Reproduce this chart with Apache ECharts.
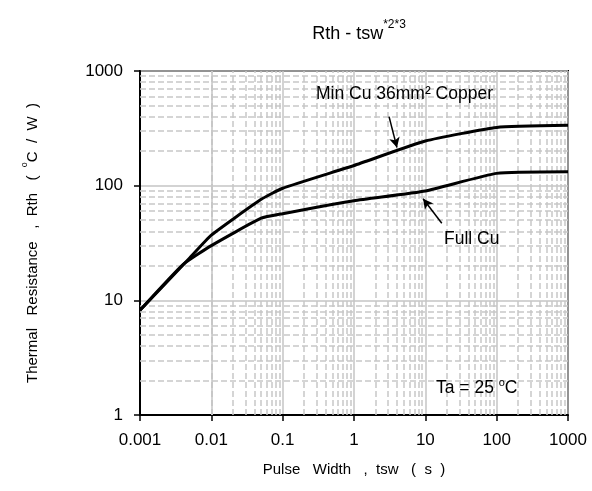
<!DOCTYPE html>
<html style="height: 100%">
<head>
  <meta charset="utf-8">
</head>
<body style="height: 100%; margin: 0">
  <div id="container" style="width: 592px; height: 491px"></div>
  <script src="https://cdn.jsdelivr.net/npm/echarts@6/dist/echarts.min.js"></script>
  <script type="text/javascript">
    // curve data
    var minCuX = [0.001, 0.005, 0.01, 0.05, 0.1, 1, 10, 100, 1000];
    var minCuY = [8.2, 23.5, 37, 76, 95, 150, 245, 322, 336];
    var fullCuX = [0.001, 0.004, 0.01, 0.05, 0.1, 1, 10, 100, 1000];
    var fullCuY = [8.2, 20.5, 30, 52, 57, 74, 90, 128, 132];

    var xDecades = [0.001, 0.01, 0.1, 1, 10, 100];
    var yDecades = [1, 10, 100];
    var minorSteps = [2, 3, 4, 5, 6, 7, 8, 9];

    // arrows: [tail, head] in data coords
    var arrowMin = [[3.1, 400], [4.0, 215]];
    var arrowFull = [[17, 47], [9.3, 77]];

    var font = "'Liberation Sans', Arial, sans-serif";

    function pairs(xs, ys) {
      return xs.map(function (x, i) { return [x, ys[i]]; });
    }

    var minorLines = [];
    xDecades.forEach(function (d) {
      minorSteps.forEach(function (s) { minorLines.push({ xAxis: d * s }); });
    });
    yDecades.forEach(function (d) {
      minorSteps.forEach(function (s) { minorLines.push({ yAxis: d * s }); });
    });

    var arrowStyle = { color: '#000', width: 1.5, type: 'solid' };
    var sup = function (size) {
      return {
        a: { fontFamily: font, fontSize: size, fill: '#000', color: '#000', lineHeight: 20, verticalAlign: 'bottom' },
        s: { fontFamily: font, fontSize: Math.round(size * 0.62), fill: '#000', color: '#000', lineHeight: 20, verticalAlign: 'top' }
      };
    };

    var dom = document.getElementById("container");
    var myChart = echarts.init(dom);

    var option = {
      animation: false,
      title: {
        text: '{a|Rth - tsw}{b|*2*3}',
        left: 354,
        textAlign: 'center',
        top: 14,
        textStyle: {
          rich: {
            a: { fontFamily: font, fontSize: 18, fontWeight: 'normal', color: '#000', lineHeight: 24, verticalAlign: 'bottom' },
            b: { fontFamily: font, fontSize: 12, fontWeight: 'normal', color: '#000', lineHeight: 22, verticalAlign: 'top' }
          }
        }
      },
      grid: {
        left: 140, right: 24, top: 71, bottom: 76,
        show: true, borderColor: '#000', borderWidth: 2, backgroundColor: 'transparent'
      },
      xAxis: {
        type: 'log',
        logBase: 10,
        min: 0.001,
        max: 1000,
        name: 'Pulse   Width   ,  tsw   (  s  )',
        nameLocation: 'middle',
        nameGap: 47,
        nameTextStyle: { fontFamily: font, fontSize: 15, color: '#000' },
        axisLine: { lineStyle: { color: '#000', width: 2 } },
        axisTick: { show: true, length: 6, lineStyle: { color: '#000', width: 1.5 } },
        axisLabel: {
          fontFamily: font, fontSize: 17, color: '#000', margin: 17,
          formatter: function (v) { return String(+v.toPrecision(3)); }
        },
        splitLine: { show: true, lineStyle: { color: '#c4c4c4', width: 1.5 } }
      },
      yAxis: {
        type: 'log',
        logBase: 10,
        min: 1,
        max: 1000,
        name: '{a|Thermal   Resistance   ,  Rth   (  }{s|o}{a|C  /  W  )}',
        nameLocation: 'middle',
        nameGap: 100,
        nameTextStyle: { rich: sup(15) },
        axisLine: { lineStyle: { color: '#000', width: 2 } },
        axisTick: { show: true, length: 6, lineStyle: { color: '#000', width: 1.5 } },
        axisLabel: {
          fontFamily: font, fontSize: 17, color: '#000', margin: 17,
          formatter: function (v) { return String(+v.toPrecision(3)); }
        },
        splitLine: { show: true, lineStyle: { color: '#c4c4c4', width: 1.5 } }
      },
      series: [
        {
          name: 'minor grid',
          type: 'line',
          data: [[0.001, 1]],
          symbol: 'none',
          silent: true,
          z: 1,
          markLine: {
            silent: true,
            symbol: 'none',
            label: { show: false },
            animation: false,
            lineStyle: { color: '#c8c8c8', type: [6, 3], width: 1.5 },
            data: minorLines
          }
        },
        {
          name: 'Min Cu',
          type: 'line',
          data: pairs(minCuX, minCuY),
          symbol: 'none',
          smooth: 0.15,
          z: 5,
          lineStyle: { color: '#000', width: 3 },
          markLine: {
            silent: true,
            symbol: ['none', 'arrow'],
            symbolSize: [8, 10],
            label: { show: false },
            lineStyle: arrowStyle,
            data: [[{ coord: arrowMin[0] }, { coord: arrowMin[1] }]]
          }
        },
        {
          name: 'Full Cu',
          type: 'line',
          data: pairs(fullCuX, fullCuY),
          symbol: 'none',
          smooth: 0.15,
          z: 5,
          lineStyle: { color: '#000', width: 3 },
          markLine: {
            silent: true,
            symbol: ['none', 'arrow'],
            symbolSize: [8, 10],
            label: { show: false },
            lineStyle: arrowStyle,
            data: [[{ coord: arrowFull[0] }, { coord: arrowFull[1] }]]
          }
        }
      ],
      graphic: [
        {
          type: 'text', left: 316, top: 85, z: 10,
          style: { text: 'Min Cu 36mm² Copper', font: '17.5px ' + font, fill: '#000' }
        },
        {
          type: 'text', left: 444, top: 230, z: 10,
          style: { text: 'Full Cu', font: '17.5px ' + font, fill: '#000' }
        },
        {
          type: 'text', left: 436, top: 377, z: 10,
          style: { text: '{a|Ta = 25 }{s|o}{a|C}', rich: sup(17.5) }
        }
      ]
    };

    myChart.setOption(option, true);
  </script>
</body>
</html>
